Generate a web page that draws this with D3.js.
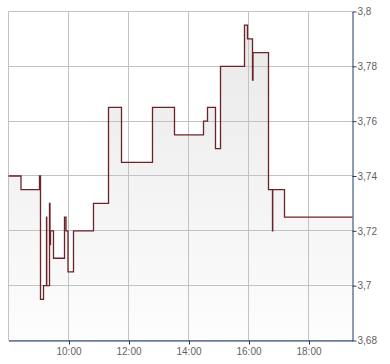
<!DOCTYPE html>
<html>
<head>
	<meta charset="utf-8">
	<title>Intraday</title>
	<style type="text/css">
		body{ margin:0; background:#fff; }
		text{ font-family: "Liberation Sans", Arial, sans-serif; font-size:10px; fill:#5f5f5f; }
	</style>
</head>
<body>

	<svg width=390 height=364 class="chart"></svg>
	<script type="text/javascript" src="https://cdnjs.cloudflare.com/ajax/libs/d3/7.8.5/d3.min.js"></script>
	<script type="text/javascript">

		// step-after trades: time (hh:mm) and price
		times = ['8:00','8:25','9:02','9:04','9:10','9:16','9:16.5','9:22','9:23','9:24','9:30',
			'9:52','9:55','9:59','10:10','10:50','11:20','11:46','12:48','13:32','14:30','14:38',
			'14:54','15:04','15:52','15:58','16:08','16:09','16:40','16:48','16:48.5','17:12','19:28']
		prices = [3.74,3.735,3.74,3.695,3.70,3.725,3.70,3.73,3.715,3.72,3.71,
			3.725,3.72,3.705,3.72,3.73,3.765,3.745,3.765,3.755,3.76,3.765,
			3.75,3.78,3.795,3.79,3.775,3.785,3.735,3.72,3.735,3.725,3.725]
		y_ticks = [3.68,3.70,3.72,3.74,3.76,3.78,3.80]
		x_ticks = ['10:00','12:00','14:00','16:00','18:00']
		x_start = '8:00'
		x_end = '19:28'

		function toDate(s){
			parts = s.split(':')
			return new Date(2020, 0, 1, +parts[0], 0, 0, 0).getTime() + (+parts[1]) * 60000
		}

		data = times.map(function(t, i){ return {'t': toDate(t), 'v': prices[i]} })

		margin = {'top':11.5, 'left':8.5, 'right':352.5, 'bottom':340.5}

		x = d3.scaleTime()
			.domain([toDate(x_start), toDate(x_end)])
			.range([margin.left, margin.right])

		y = d3.scaleLinear()
			.domain([3.68, 3.8])
			.range([margin.bottom, margin.top])

		function crisp(v){ return Math.round(v - 0.5) + 0.5 }

		svg = d3.select('.chart')

		defs = svg.append('defs')
		grad = defs.append('linearGradient')
			.attr('id', 'fillGrad')
			.attr('x1', 0).attr('y1', 0).attr('x2', 0).attr('y2', 1)
		grad.append('stop').attr('offset', '0%').attr('stop-color', '#e9e9e9')
		grad.append('stop').attr('offset', '100%').attr('stop-color', '#fdfdfd')

		area = d3.area()
			.x(function(d){ return x(d.t) })
			.y0(margin.bottom)
			.y1(function(d){ return y(d.v) })
			.curve(d3.curveStepAfter)

		svg.append('path')
			.datum(data)
			.attr('d', area)
			.attr('fill', 'url(#fillGrad)')
			.attr('stroke', 'none')

		// grid
		grid = svg.append('g')
		grid.selectAll('.hgrid')
			.data(y_ticks)
			.enter()
			.append('line')
			.attr('x1', margin.left)
			.attr('x2', margin.right)
			.attr('y1', function(d){ return crisp(y(d)) })
			.attr('y2', function(d){ return crisp(y(d)) })
			.attr('stroke', '#c2c2c2')

		grid.selectAll('.vgrid')
			.data([x_start].concat(x_ticks))
			.enter()
			.append('line')
			.attr('x1', function(d){ return crisp(x(toDate(d))) })
			.attr('x2', function(d){ return crisp(x(toDate(d))) })
			.attr('y1', margin.top)
			.attr('y2', margin.bottom)
			.attr('stroke', '#c2c2c2')

		line = d3.line()
			.x(function(d){ return x(d.t) })
			.y(function(d){ return y(d.v) })
			.curve(d3.curveStepAfter)

		svg.append('path')
			.datum(data)
			.attr('d', line)
			.attr('fill', 'none')
			.attr('stroke', '#6b2328')
			.attr('stroke-width', 1.3)

		// axes
		xAxis = d3.axisBottom(x)
			.tickValues(x_ticks.map(toDate))
			.tickFormat(d3.timeFormat('%H:%M'))
			.tickSize(4)
			.tickSizeOuter(0)

		gx = svg.append('g')
			.attr('transform', 'translate(0,' + (margin.bottom) + ')')
			.call(xAxis)
		gx.select('.domain').attr('stroke', '#1d3a66')
		gx.selectAll('.tick line').attr('stroke', '#1d3a66')
			.attr('transform', 'translate(0.5,0)')
		gx.selectAll('.tick text')
			.attr('dy', null).attr('y', 14)
			.style('font-family', '"Liberation Sans", Arial, sans-serif')
			.style('font-size', '10px')
			.attr('fill', '#5f5f5f')

		yAxis = d3.axisRight(y)
			.tickValues(y_ticks)
			.tickFormat(function(d){ return d3.format('~g')(d).replace('.', ',') })
			.tickSize(4)
			.tickSizeOuter(0)

		gy = svg.append('g')
			.attr('transform', 'translate(' + margin.right + ',0)')
			.call(yAxis)
		gy.select('.domain').attr('stroke', '#1d3a66')
		gy.selectAll('.tick line').attr('stroke', '#1d3a66')
		gy.selectAll('.tick text')
			.attr('x', 5)
			.style('font-family', '"Liberation Sans", Arial, sans-serif')
			.style('font-size', '10px')
			.attr('fill', '#5f5f5f')

	</script>
	
</body>
</html>
